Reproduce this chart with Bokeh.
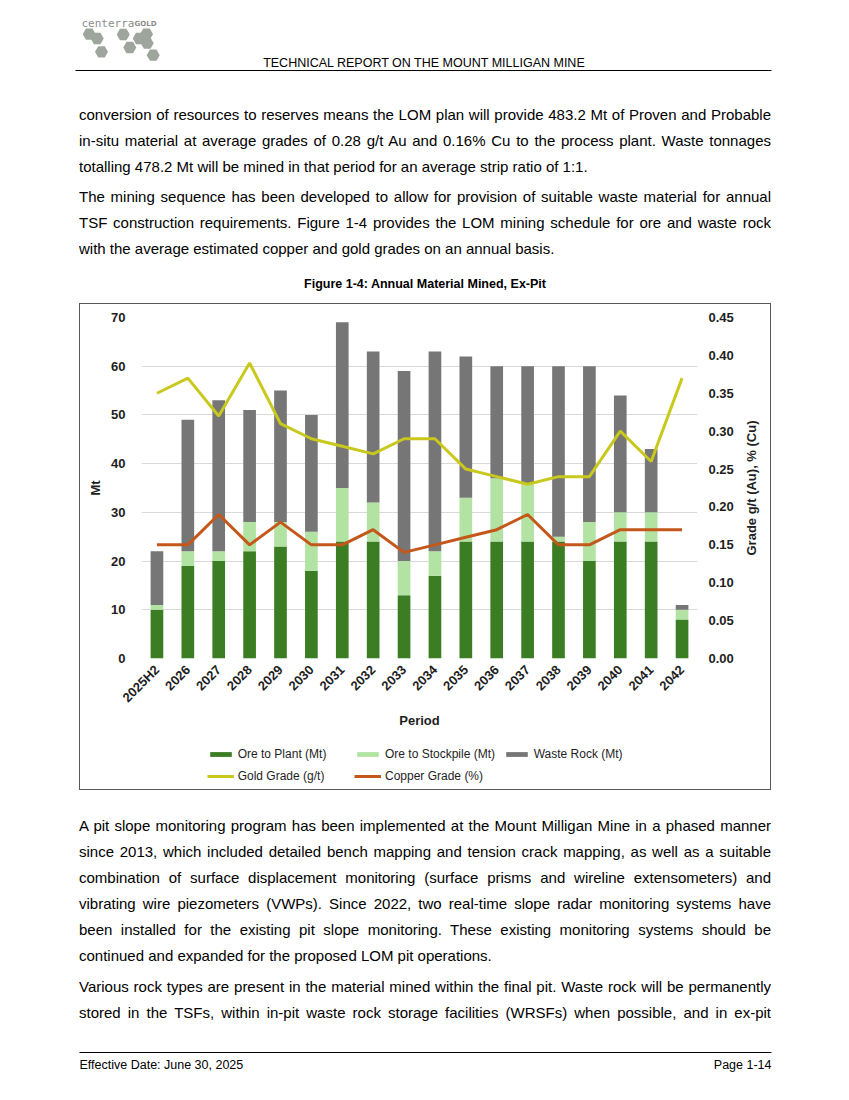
import math
from bokeh.plotting import figure
from bokeh.models import (Range1d, LinearAxis, FixedTicker, PrintfTickFormatter, Legend,
                          LegendItem, Div, Spacer)
from bokeh.layouts import column, row
from bokeh.core.properties import value
from bokeh.embed import file_html
from bokeh.resources import INLINE

# ---------------- data ----------------
periods = ["2025H2", "2026", "2027", "2028", "2029", "2030", "2031", "2032", "2033",
           "2034", "2035", "2036", "2037", "2038", "2039", "2040", "2041", "2042"]
ore_to_plant = [10, 19, 20, 22, 23, 18, 24, 24, 13, 17, 24, 24, 24, 24, 20, 24, 24, 8]
ore_to_stockpile = [1, 3, 2, 6, 5, 8, 11, 8, 7, 5, 9, 13, 12, 1, 8, 6, 6, 2]
waste_rock = [11, 27, 31, 23, 27, 24, 34, 31, 39, 41, 29, 23, 24, 35, 32, 24, 13, 1]
gold_grade = [0.35, 0.37, 0.32, 0.39, 0.31, 0.29, 0.28, 0.27, 0.29, 0.29, 0.25, 0.24,
              0.23, 0.24, 0.24, 0.30, 0.26, 0.37]
copper_grade = [0.15, 0.15, 0.19, 0.15, 0.18, 0.15, 0.15, 0.17, 0.14, 0.15, 0.16, 0.17,
                0.19, 0.15, 0.15, 0.17, 0.17, 0.17]
left_ticks = [0, 10, 20, 30, 40, 50, 60, 70]
right_ticks = [0.0, 0.05, 0.10, 0.15, 0.20, 0.25, 0.30, 0.35, 0.40, 0.45]
series_names = ["Ore to Plant (Mt)", "Ore to Stockpile (Mt)", "Waste Rock (Mt)",
                "Gold Grade (g/t)", "Copper Grade (%)"]
right_title = "Grade g/t (Au), % (Cu)"

SANS = "Liberation Sans"
TXT = "#1e1e1e"
BAR_COLORS = ["#3b7d23", "#b3e3a2", "#767676"]
GOLD_C = "#c9c81c"
CU_C = "#c4571a"

# ---------------- header ----------------
hdr = figure(width=849, height=80, x_range=Range1d(0, 849), y_range=Range1d(80, 0),
             output_backend="svg", toolbar_location=None, min_border=0)
hdr.axis.visible = False
hdr.grid.visible = False
hdr.outline_line_color = None
hex_x = [88.7, 96.7, 122.7, 138.7, 146.0, 146.7, 101.0, 129.3, 152.7]
hex_y = [33.7, 38.0, 34.0, 38.0, 33.7, 42.7, 51.3, 47.0, 54.7]
hdr.scatter(hex_x, hex_y, marker="hex", size=13, fill_color="#9ea59c", line_color=None)
hdr.text([81], [22.5], text=["centerra"], text_font=value("DejaVu Sans Mono"),
         text_font_size="11px", text_color="#8c8c8c", text_baseline="middle")
hdr.text([134], [23], text=["GOLD"], text_font=value("DejaVu Sans"),
         text_font_size="7px", text_color="#8c8c8c", text_baseline="middle",
         text_font_style="bold")
hdr.text([424], [62], text=["TECHNICAL REPORT ON THE MOUNT MILLIGAN MINE"],
         text_font=value(SANS), text_font_size="12.5px", text_color="#000000",
         text_align="center", text_baseline="middle")
hdr.line([75, 771], [70, 70], line_color="#000000", line_width=1)

# ---------------- top text ----------------
para1 = ("conversion of resources to reserves means the LOM plan will provide 483.2 Mt of "
         "Proven and Probable in-situ material at average grades of 0.28 g/t Au and 0.16% Cu "
         "to the process plant. Waste tonnages totalling 478.2 Mt will be mined in that period "
         "for an average strip ratio of 1:1.")
para2 = ("The mining sequence has been developed to allow for provision of suitable waste "
         "material for annual TSF construction requirements. Figure 1-4 provides the LOM "
         "mining schedule for ore and waste rock with the average estimated copper and gold "
         "grades on an annual basis.")
fig_title = "Figure 1-4: Annual Material Mined, Ex-Pit"
top_html = (
    "<div style=\"font-family:'Liberation Sans',Arial,sans-serif;font-size:15px;"
    "line-height:26px;color:#000;text-align:justify;padding-top:22px;width:692px\">"
    f"<p style='margin:0 0 4px 0'>{para1}</p>"
    f"<p style='margin:0'>{para2}</p>"
    "<div style=\"text-align:center;font-family:'Liberation Sans',"
    "Arial,sans-serif;font-weight:bold;font-size:12.5px;line-height:20px;margin-top:12px\">"
    f"{fig_title}</div></div>")
top_div = Div(text=top_html, width=692, height=223, margin=0, styles={"overflow": "hidden"})

# ---------------- chart ----------------
p = figure(x_range=periods, y_range=Range1d(0, 70), width=662, height=440,
           output_backend="svg", toolbar_location=None,
           min_border_left=61, min_border_right=45, min_border_top=13, min_border_bottom=86)
p.outline_line_color = None
p.extra_y_ranges = {"grade": Range1d(0, 0.45)}

src = dict(period=periods, ore=ore_to_plant, stock=ore_to_stockpile, waste=waste_rock)
bars = p.vbar_stack(["ore", "stock", "waste"], x="period", width=0.41, source=src,
                    color=BAR_COLORS, line_color=None)
p.line(periods, gold_grade, y_range_name="grade", line_color=GOLD_C, line_width=3)
p.line(periods, copper_grade, y_range_name="grade", line_color=CU_C, line_width=3)

p.xgrid.visible = False
p.ygrid.grid_line_color = "#d9d9d9"
p.ygrid.ticker = FixedTicker(ticks=left_ticks)

yax = p.yaxis[0]
yax.ticker = FixedTicker(ticks=left_ticks)
yax.axis_label = "Mt"

rax = LinearAxis(y_range_name="grade", ticker=FixedTicker(ticks=right_ticks),
                 formatter=PrintfTickFormatter(format="%.2f"))
p.add_layout(rax, "right")

p.xaxis.axis_label = "Period"
p.xaxis.major_label_orientation = math.pi / 4

for ax in [p.xaxis[0], yax, rax]:
    ax.axis_line_color = None
    ax.major_tick_line_color = None
    ax.minor_tick_line_color = None
    ax.major_label_text_font = SANS
    ax.major_label_text_font_style = "bold"
    ax.major_label_text_font_size = "13px"
    ax.major_label_text_color = TXT
    ax.axis_label_text_font = SANS
    ax.axis_label_text_font_style = "bold"
    ax.axis_label_text_font_size = "13px"
    ax.axis_label_text_color = TXT
yax.major_label_standoff = 10
rax.major_label_standoff = 5
p.xaxis.major_label_standoff = 3
p.xaxis.axis_label_standoff = 0

# right-hand axis title strip (reads bottom-to-top)
tf = figure(width=28, height=440, x_range=Range1d(0, 28), y_range=Range1d(0, 1),
            output_backend="svg", toolbar_location=None, min_border=0)
tf.axis.visible = False
tf.grid.visible = False
tf.outline_line_color = None
tf.text([9], [0.5], text=[right_title], angle=math.pi / 2, text_font=value(SANS),
        text_font_style="bold", text_font_size="13px", text_color=TXT,
        text_align="center", text_baseline="middle")

# ---------------- legend strip (inside the chart box) ----------------
lf = figure(width=690, height=45, x_range=Range1d(0, 1), y_range=Range1d(0, 1),
            output_backend="svg", toolbar_location=None, min_border=0, min_border_left=61)
lf.axis.visible = False
lf.grid.visible = False
lf.outline_line_color = None
sw = [lf.vbar(x=[-1], top=[0], width=0.1, color=c, line_color=None) for c in BAR_COLORS]
sw.append(lf.line(x=[-1], y=[0], line_color=GOLD_C, line_width=3))
sw.append(lf.line(x=[-1], y=[0], line_color=CU_C, line_width=3))
leg_pos = [(65.7, 28), (213, 28), (361.7, 28), (65.7, 6), (213, 6)]
for name, rend, loc in zip(series_names, sw, leg_pos):
    lg = Legend(items=[LegendItem(label=name, renderers=[rend])], location=loc,
                border_line_color=None, background_fill_alpha=0, padding=0, margin=0,
                spacing=0, label_standoff=4, glyph_width=27, glyph_height=6,
                label_height=14, label_text_font_size="12px", label_text_font=SANS,
                label_text_color=TXT)
    lf.add_layout(lg, "center")

chart_box = column(row(p, tf), lf, styles={"border": "1px solid #595959"})

# ---------------- bottom text ----------------
para3 = ("A pit slope monitoring program has been implemented at the Mount Milligan Mine in a "
         "phased manner since 2013, which included detailed bench mapping and tension crack "
         "mapping, as well as a suitable combination of surface displacement monitoring "
         "(surface prisms and wireline extensometers) and vibrating wire piezometers (VWPs). "
         "Since 2022, two real-time slope radar monitoring systems have been installed for the "
         "existing pit slope monitoring. These existing monitoring systems should be continued "
         "and expanded for the proposed LOM pit operations.")
para4 = ("Various rock types are present in the material mined within the final pit. Waste "
         "rock will be permanently stored in the TSFs, within in-pit waste rock storage "
         "facilities (WRSFs) when possible, and in ex-pit")
bot_html = (
    "<div style=\"font-family:'Liberation Sans',Arial,sans-serif;font-size:15px;"
    "line-height:26px;color:#000;text-align:justify;padding-top:23px;width:692px\">"
    f"<p style='margin:0 0 5px 0'>{para3}</p>"
    f"<p style='margin:0;text-align-last:justify'>{para4}</p></div>")
bot_div = Div(text=bot_html, width=692, height=250, margin=0, styles={"overflow": "hidden"})

# ---------------- footer ----------------
ftr = figure(width=849, height=56, x_range=Range1d(0, 849), y_range=Range1d(56, 0),
             output_backend="svg", toolbar_location=None, min_border=0)
ftr.axis.visible = False
ftr.grid.visible = False
ftr.outline_line_color = None
ftr.line([79, 771], [12, 12], line_color="#000000", line_width=1)
ftr.text([79], [24], text=["Effective Date: June 30, 2025"], text_font=value(SANS),
         text_font_size="12.5px", text_color="#000000", text_baseline="middle")
ftr.text([771], [24], text=["Page 1-14"], text_font=value(SANS),
         text_font_size="12.5px", text_color="#000000", text_baseline="middle",
         text_align="right")

page = column(hdr,
              row(Spacer(width=79, height=223), top_div),
              row(Spacer(width=79, height=487), chart_box),
              row(Spacer(width=79, height=250), bot_div),
              ftr)

open("out.html", "w").write(file_html(page, INLINE))
